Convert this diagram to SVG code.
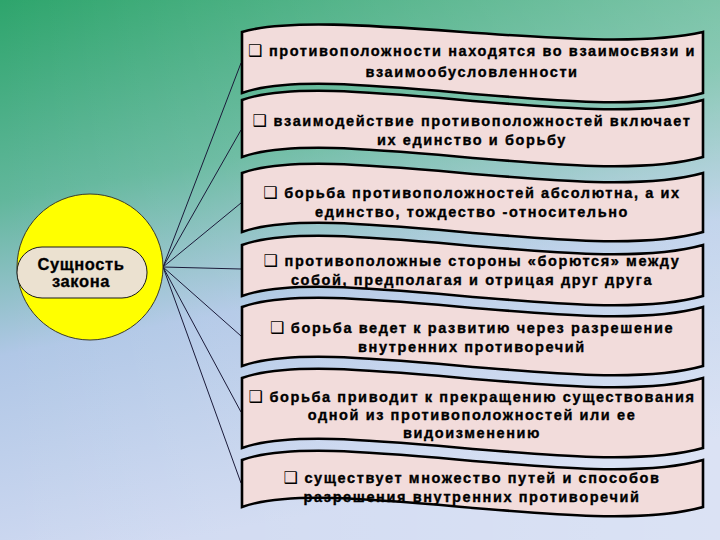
<svg xmlns="http://www.w3.org/2000/svg" width="720" height="540" viewBox="0 0 720 540">
  <defs>
    <linearGradient id="bg" x1="0" y1="0" x2="0.25" y2="1">
      <stop offset="0" stop-color="#2ea56c"/>
      <stop offset="0.35" stop-color="#62b79c"/>
      <stop offset="0.62" stop-color="#b0c7e6"/>
      <stop offset="1" stop-color="#cfd9f1"/>
    </linearGradient>
    <linearGradient id="bg2" x1="0" y1="0" x2="1" y2="0">
      <stop offset="0" stop-color="#ffffff" stop-opacity="0"/>
      <stop offset="1" stop-color="#ffffff" stop-opacity="0.25"/>
    </linearGradient>
    <style>
      .box { fill: #f2dcdb; stroke: #000; stroke-width: 2.6; stroke-linejoin: miter; }
      .t { font-family: "Liberation Sans", Arial, sans-serif; font-weight: bold; font-size: 14.5px; letter-spacing: 1.6px; fill: #000; stroke: #000; stroke-width: 0.35; text-anchor: middle; }
      .b { font-family: "DejaVu Sans", sans-serif; font-weight: normal; font-size: 16px; letter-spacing: 1px; stroke-width: 0; }
      .c { stroke: #1b1b3a; stroke-width: 1; fill: none; }
      .lbl { font-family: "Liberation Sans", Arial, sans-serif; font-weight: bold; font-size: 16.5px; letter-spacing: 0.6px; fill: #000; stroke: #000; stroke-width: 0.3; text-anchor: middle; }
    </style>
  </defs>
  <rect x="0" y="0" width="720" height="540" fill="url(#bg)"/>
  <rect x="0" y="0" width="720" height="540" fill="url(#bg2)"/>

  <g id="connectors">
    <line class="c" x1="163" y1="267" x2="241" y2="63"/>
    <line class="c" x1="163" y1="267" x2="241" y2="130"/>
    <line class="c" x1="163" y1="267" x2="241" y2="203"/>
    <line class="c" x1="163" y1="267" x2="241" y2="269"/>
    <line class="c" x1="163" y1="267" x2="241" y2="336"/>
    <line class="c" x1="163" y1="267" x2="241" y2="412"/>
    <line class="c" x1="163" y1="267" x2="241" y2="483"/>
  </g>

  <g id="center">
    <circle cx="90" cy="267" r="73" fill="#ffff00" stroke="#3a3a2a" stroke-width="1"/>
    <rect x="17" y="247" width="130" height="51" rx="25" ry="25" fill="#ebe1d0" stroke="#1a1a1a" stroke-width="1"/>
    <text class="lbl" x="81" y="270">Сущность</text>
    <text class="lbl" x="81" y="287">закона</text>
  </g>

  <g id="box1">
    <path class="box" d="M242,32 C330,6 590,58 703,32 L703,93 C590,125 330,61 242,93 Z"/>
    <text class="t" x="472" y="56"><tspan class="b">❑</tspan> противоположности находятся во взаимосвязи и</text>
    <text class="t" x="472" y="77">взаимообусловленности</text>
  </g>
  <g id="box2">
    <path class="box" d="M242,100 C330,68 590,132 703,100 L703,157 C590,189 330,125 242,157 Z"/>
    <text class="t" x="472" y="126"><tspan class="b">❑</tspan> взаимодействие противоположностей включает</text>
    <text class="t" x="472" y="145">их единство и борьбу</text>
  </g>
  <g id="box3">
    <path class="box" d="M242,173 C330,141 590,205 703,173 L703,232 C590,264 330,200 242,232 Z"/>
    <text class="t" x="472" y="198"><tspan class="b">❑</tspan> борьба противоположностей абсолютна, а их</text>
    <text class="t" x="472" y="217">единство, тождество -относительно</text>
  </g>
  <g id="box4">
    <path class="box" d="M242,245 C330,213 590,277 703,245 L703,296 C590,328 330,264 242,296 Z"/>
    <text class="t" x="472" y="266"><tspan class="b">❑</tspan> противоположные стороны «борются» между</text>
    <text class="t" x="472" y="285">собой, предполагая и отрицая друг друга</text>
  </g>
  <g id="box5">
    <path class="box" d="M242,307 C330,275 590,339 703,307 L703,366 C590,398 330,334 242,366 Z"/>
    <text class="t" x="472" y="333"><tspan class="b">❑</tspan> борьба ведет к развитию через разрешение</text>
    <text class="t" x="472" y="352">внутренних противоречий</text>
  </g>
  <g id="box6">
    <path class="box" d="M242,378 C330,346 590,410 703,378 L703,448 C590,480 330,416 242,448 Z"/>
    <text class="t" x="472" y="402"><tspan class="b">❑</tspan> борьба приводит к прекращению существования</text>
    <text class="t" x="472" y="420">одной из противоположностей или ее</text>
    <text class="t" x="472" y="438">видоизменению</text>
  </g>
  <g id="box7">
    <path class="box" d="M242,460 C330,428 590,492 703,460 L703,507 C590,539 330,475 242,507 Z"/>
    <text class="t" x="472" y="483"><tspan class="b">❑</tspan> существует множество путей и способов</text>
    <text class="t" x="472" y="502">разрешения внутренних противоречий</text>
  </g>
</svg>
